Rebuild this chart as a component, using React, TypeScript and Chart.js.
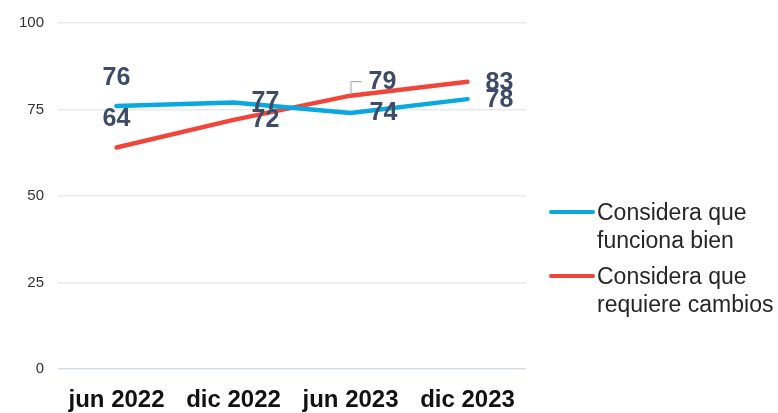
import React, { useEffect, useRef } from "react";
import { Chart, registerables } from "chart.js";
Chart.register(...registerables);

const categories = ["jun 2022", "dic 2022", "jun 2023", "dic 2023"];
const funcionaBien = [76, 77, 74, 78];
const requiereCambios = [64, 72, 79, 83];
const yTicks = [0, 25, 50, 75, 100];
const seriesNames = [
  ["Considera que", "funciona bien"],
  ["Considera que", "requiere cambios"],
];

const BLUE = "#0aa8e0";
const RED = "#f0463a";
const LABEL_COLOR = "#3d4b66";
const FONT = "'Liberation Sans', Arial, sans-serif";

const labelOffsets = [
  [[0, -29], [32, -1], [33, -1], [32, 0]],
  [[0, -29], [32, -1], [32, -15], [32, 0]],
];

const valueLabels = {
  id: "valueLabels",
  afterDatasetsDraw(chart: any) {
    const ctx = chart.ctx;
    ctx.save();
    ctx.font = `bold 25px ${FONT}`;
    ctx.fillStyle = LABEL_COLOR;
    ctx.textAlign = "center";
    ctx.textBaseline = "middle";
    chart.data.datasets.forEach((ds: any, di: number) => {
      const meta = chart.getDatasetMeta(di);
      meta.data.forEach((pt: any, i: number) => {
        const [dx, dy] = labelOffsets[di][i];
        ctx.fillText(String(ds.data[i]), pt.x + dx, pt.y + dy + 1);
      });
    });
    const p = chart.getDatasetMeta(1).data[2];
    if (p) {
      ctx.strokeStyle = "#97a0b2";
      ctx.lineWidth = 1;
      ctx.beginPath();
      ctx.moveTo(p.x + 0.5, p.y - 1);
      ctx.lineTo(p.x + 0.5, p.y - 14);
      ctx.lineTo(p.x + 11, p.y - 14);
      ctx.stroke();
    }
    ctx.restore();
  },
};

const customLegend = {
  id: "customLegend",
  afterDraw(chart: any) {
    const ctx = chart.ctx;
    ctx.save();
    const colors = [BLUE, RED];
    const startY = [212, 276];
    ctx.font = `23px ${FONT}`;
    ctx.fillStyle = "#262626";
    ctx.textAlign = "left";
    ctx.textBaseline = "alphabetic";
    seriesNames.forEach((lines, i) => {
      const y = startY[i];
      ctx.strokeStyle = colors[i];
      ctx.lineWidth = 4;
      ctx.lineCap = "round";
      ctx.beginPath();
      ctx.moveTo(551, y);
      ctx.lineTo(593, y);
      ctx.stroke();
      lines.forEach((t, j) => {
        ctx.fillText(t, 597, y + 8 + j * 28);
      });
    });
    ctx.restore();
  },
};

export default function App() {
  const ref = useRef<HTMLCanvasElement>(null);
  useEffect(() => {
    if (!ref.current) return;
    const chart = new Chart(ref.current, {
      type: "line",
      data: {
        labels: categories,
        datasets: [
          {
            label: seriesNames[0].join(" "),
            data: funcionaBien,
            borderColor: BLUE,
            backgroundColor: BLUE,
            borderWidth: 4.5,
            pointRadius: 0,
            tension: 0,
            borderCapStyle: "round",
            borderJoinStyle: "round",
          },
          {
            label: seriesNames[1].join(" "),
            data: requiereCambios,
            borderColor: RED,
            backgroundColor: RED,
            borderWidth: 4.5,
            pointRadius: 0,
            tension: 0,
            borderCapStyle: "round",
            borderJoinStyle: "round",
          },
        ],
      },
      options: {
        animation: false,
        responsive: true,
        maintainAspectRatio: false,
        layout: { padding: { top: 19, right: 252, left: 0, bottom: 0 } },
        plugins: { legend: { display: false }, tooltip: { enabled: false } },
        scales: {
          x: {
            offset: true,
            grid: { display: false, drawTicks: false },
            border: { display: false },
            ticks: {
              padding: 17,
              color: "#111111",
              font: { family: FONT, size: 24, weight: "bold" },
              maxRotation: 0,
            },
            afterFit(axis: any) {
              axis.height = 44;
            },
          },
          y: {
            min: 0,
            max: 100,
            afterBuildTicks(axis: any) {
              axis.ticks = yTicks.map((v) => ({ value: v }));
            },
            grid: {
              drawTicks: false,
              color: (c: any) => (c.tick && c.tick.value === 0 ? "#d5dce8" : "#e8eaee"),
              lineWidth: 1.5,
            },
            border: { display: false },
            ticks: {
              padding: 14,
              color: "#333333",
              font: { family: FONT, size: 15 },
            },
            afterFit(axis: any) {
              axis.width = 58;
            },
          },
        },
      },
      plugins: [valueLabels, customLegend],
    });
    return () => chart.destroy();
  }, []);
  return (
    <div style={{ position: "absolute", left: 0, top: 0, width: 778, height: 413, background: "#ffffff" }}>
      <canvas ref={ref} />
    </div>
  );
}
